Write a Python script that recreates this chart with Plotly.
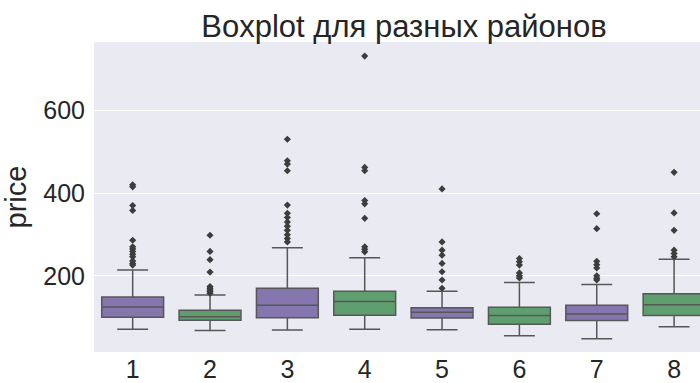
import plotly.graph_objects as go

# District labels and price distribution summaries (per district)
districts = ["1", "2", "3", "4", "5", "6", "7", "8"]
lower_whisker = [71, 68, 69, 71, 70, 55, 48, 77]
q1 = [100, 93, 99, 105, 98, 83, 92, 104]
median = [125, 101, 129, 138, 112, 104, 108, 130]
q3 = [149, 117, 170, 163, 123, 124, 129, 157]
upper_whisker = [214, 154, 268, 244, 163, 184, 179, 240]

outliers = {
    "1": [226, 230, 236, 246, 252, 259, 265, 270, 286, 358, 370, 415, 420],
    "2": [158, 162, 166, 170, 174, 209, 239, 259, 298],
    "3": [282, 290, 299, 310, 320, 330, 341, 351, 371, 454, 470, 478, 530],
    "4": [258, 264, 270, 339, 374, 382, 454, 462, 731],
    "5": [170, 190, 210, 230, 250, 262, 282, 410],
    "6": [195, 200, 207, 226, 234, 242],
    "7": [190, 194, 200, 219, 227, 235, 314, 350],
    "8": [246, 254, 262, 310, 352, 450],
}

purple = "#8576AE"
green = "#5F9E6E"
edge = "#575757"
font_family = "Liberation Sans, Arial, sans-serif"

fig = go.Figure()

for start, color in [(0, purple), (1, green)]:
    idx = list(range(start, len(districts), 2))
    fig.add_trace(go.Box(
        x=[districts[i] for i in idx],
        q1=[q1[i] for i in idx],
        median=[median[i] for i in idx],
        q3=[q3[i] for i in idx],
        lowerfence=[lower_whisker[i] for i in idx],
        upperfence=[upper_whisker[i] for i in idx],
        fillcolor=color,
        line=dict(color=edge, width=1.5),
        width=0.8,
        whiskerwidth=0.5,
        boxpoints=False,
        hoverinfo="skip",
        showlegend=False,
    ))

flier_x, flier_y = [], []
for d in districts:
    for v in outliers[d]:
        flier_x.append(d)
        flier_y.append(v)

fig.add_trace(go.Scatter(
    x=flier_x, y=flier_y, mode="markers",
    marker=dict(symbol="diamond", size=5.5, color="#3d3d3d", line=dict(width=0)),
    showlegend=False, hoverinfo="skip",
))

fig.update_layout(
    width=700, height=383,
    margin=dict(l=94, r=0, t=42, b=29),
    paper_bgcolor="white",
    plot_bgcolor="#EAEAF2",
    boxmode="overlay",
    font=dict(family=font_family, color="#262626"),
    title=dict(
        text="Boxplot для разных районов",
        x=404 / 700, xref="container", xanchor="center",
        y=1 - 26 / 383, yref="container", yanchor="middle",
        font=dict(size=31, color="#262626"),
    ),
)

fig.update_xaxes(
    type="category",
    categoryorder="array", categoryarray=districts,
    range=[-0.5, 7.335],
    showgrid=False, zeroline=False, showline=False,
    ticks="", tickfont=dict(size=25, color="#262626"),
)
fig.update_yaxes(
    range=[16, 765],
    tickvals=[200, 400, 600],
    showgrid=True, gridcolor="white", gridwidth=1,
    zeroline=False, showline=False,
    ticks="", ticklabelstandoff=8,
    tickfont=dict(size=25, color="#262626"),
    title=dict(text="price", standoff=9, font=dict(size=29, color="#262626")),
)

fig.write_html("out.html")
